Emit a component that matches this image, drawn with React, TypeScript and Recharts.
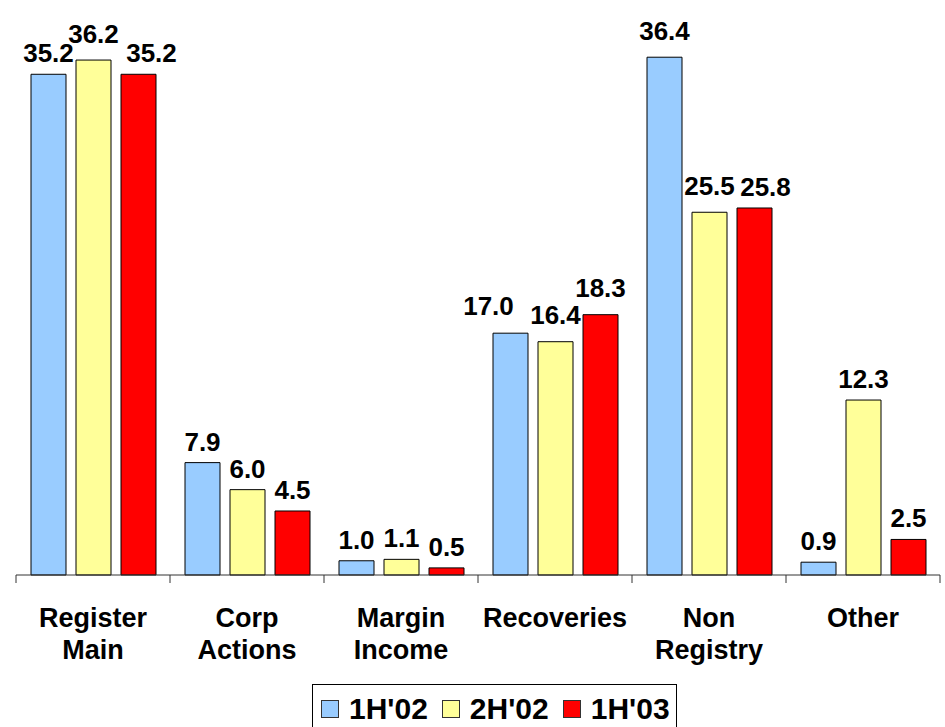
import React from 'react'
import { BarChart, Bar, XAxis, YAxis, LabelList } from 'recharts'

const categories = ['Register\nMain', 'Corp\nActions', 'Margin\nIncome', 'Recoveries', 'Non\nRegistry', 'Other']
const h1_02 = [35.2, 7.9, 1.0, 17.0, 36.4, 0.9]
const h2_02 = [36.2, 6.0, 1.1, 16.4, 25.5, 12.3]
const h1_03 = [35.2, 4.5, 0.5, 18.3, 25.8, 2.5]

const SERIES = [
  { key: 'h1_02', name: "1H'02", color: '#99CCFF' },
  { key: 'h2_02', name: "2H'02", color: '#FFFF99' },
  { key: 'h1_03', name: "1H'03", color: '#FF0000' },
]

// label nudges (px) where the original spreads overlapping labels apart
const LABEL_DX: Record<string, number[]> = {
  h1_02: [0, 0, 0, -22, 0, 0],
  h2_02: [0, 0, 0, 0, 0, 0],
  h1_03: [13, 0, 0, 0, 11, 0],
}
const LABEL_DY: Record<string, number[]> = {
  h1_02: [0, 0, 0, -6, -5, 0],
  h2_02: [-5, 0, 0, -6, -5, 0],
  h1_03: [0, 0, 0, -6, 0, 0],
}

const data = categories.map((c, i) => ({ name: c, h1_02: h1_02[i], h2_02: h2_02[i], h1_03: h1_03[i] }))

const FONT = 'Arial, "Liberation Sans", sans-serif'
const AXIS = '#333333'

const CategoryTick = (props: any) => {
  const { x, y, payload, index } = props
  const half = payload.offset || 77
  const lines = String(payload.value).split('\n')
  return (
    <g>
      <line x1={x - half} y1={y - 8} x2={x - half} y2={y} stroke={AXIS} />
      {index === categories.length - 1 && <line x1={x + half} y1={y - 8} x2={x + half} y2={y} stroke={AXIS} />}
      {lines.map((l, i) => (
        <text key={i} x={x} y={y + 44 + i * 32} textAnchor="middle" fontSize={27} fontWeight="bold" fontFamily={FONT} fill="#000">
          {l}
        </text>
      ))}
    </g>
  )
}

const makeLabel = (key: string) => (props: any) => {
  const { x, y, width, value, index } = props
  const dx = LABEL_DX[key][index] || 0
  const dy = LABEL_DY[key][index] || 0
  return (
    <text
      x={Number(x) + Number(width) / 2 + dx}
      y={Number(y) - 12 + dy}
      textAnchor="middle"
      fontSize={26}
      fontWeight="bold"
      fontFamily={FONT}
      fill="#000"
    >
      {Number(value).toFixed(1)}
    </text>
  )
}

export default function App() {
  return (
    <div style={{ position: 'relative', width: 945, height: 727, background: '#fff' }}>
      <style>{'body{margin:0}'}</style>
      <BarChart width={945} height={727} data={data} margin={{ top: 6, right: 5, left: 16, bottom: 0 }} barCategoryGap={15} barGap={10}>
        <XAxis dataKey="name" interval={0} height={152} axisLine={{ stroke: AXIS }} tickLine={false} tick={<CategoryTick />} />
        <YAxis width={0} domain={[0, 40]} tick={false} tickLine={false} axisLine={{ stroke: AXIS }} />
        {SERIES.map((s) => (
          <Bar key={s.key} dataKey={s.key} name={s.name} fill={s.color} stroke="#000" strokeWidth={1} isAnimationActive={false}>
            <LabelList dataKey={s.key} content={makeLabel(s.key)} />
          </Bar>
        ))}
      </BarChart>
      <div
        style={{
          position: 'absolute',
          left: 312,
          top: 684,
          width: 365,
          height: 60,
          border: '1px solid #000',
          boxSizing: 'border-box',
          display: 'flex',
          alignItems: 'flex-start',
          paddingTop: 7,
          paddingLeft: 8,
          fontFamily: FONT,
          fontWeight: 'bold',
          fontSize: 30,
          lineHeight: '34px',
          whiteSpace: 'nowrap',
        }}
      >
        {SERIES.map((s) => (
          <div key={s.key} style={{ display: 'flex', alignItems: 'center', marginRight: 14 }}>
            <span style={{ display: 'inline-block', width: 16, height: 16, background: s.color, border: '1px solid #333', marginRight: 10 }} />
            <span>{s.name}</span>
          </div>
        ))}
      </div>
    </div>
  )
}
